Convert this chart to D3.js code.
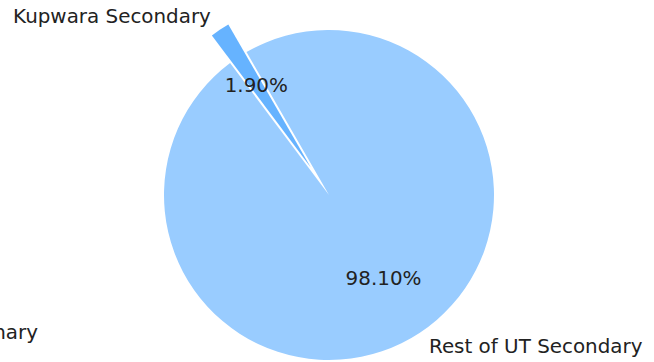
<!DOCTYPE html>
<html>
<head>
<meta charset="utf-8">
<script src="https://cdn.jsdelivr.net/npm/d3@7"></script>
<style>
  body { margin: 0; background: #fff; }
  text { font-family: "DejaVu Sans", sans-serif; fill: #222; }
</style>
</head>
<body>
<script>
// pie data
var labels = ["Kupwara Secondary", "Rest of UT Secondary"];
var values = [1.90, 98.10];
var colors = ["#66b3ff", "#99ccff"];
var explode = [0.2, 0];
// label of a neighbouring pie, cut off at the left edge
var offLabels = ["Kupwara Primary"];

var width = 654, height = 362;
var cx = 329, cy = 195, radius = 165;
var fontSize = 19.9;

var svg = d3.select("body")
    .append("svg")
    .attr("width", width)
    .attr("height", height);

var data = labels.map(function(l, i) {
    return {label: l, value: values[i], color: colors[i], explode: explode[i]};
});

// matplotlib startangle=120, counterclockwise
var start = (90 - 120) * Math.PI / 180;
var pie = d3.pie()
    .sort(null)
    .value(function(d) { return d.value; })
    .startAngle(start)
    .endAngle(start - 2 * Math.PI);

var arcs = pie(data);
var arc = d3.arc().innerRadius(0).outerRadius(radius);

function midAngle(d) { return (d.startAngle + d.endAngle) / 2; }
function offset(d, dist) {
    var a = midAngle(d);
    return [Math.sin(a) * dist, -Math.cos(a) * dist];
}
function shift(d) {
    var o = offset(d, d.data.explode * radius);
    return "translate(" + o[0] + "," + o[1] + ")";
}

var g = svg.append("g").attr("transform", "translate(" + cx + "," + cy + ")");

g.selectAll("path.slice")
    .data(arcs)
    .enter()
    .append("path")
    .attr("class", "slice")
    .attr("transform", shift)
    .attr("d", arc)
    .attr("fill", function(d) { return d.data.color; });

// outer labels (labeldistance 1.1)
g.selectAll("text.label")
    .data(arcs)
    .enter()
    .append("text")
    .attr("class", "label")
    .attr("transform", shift)
    .attr("x", function(d) { return offset(d, 1.1 * radius)[0]; })
    .attr("y", function(d) { return offset(d, 1.1 * radius)[1]; })
    .attr("dy", "0.35em")
    .attr("text-anchor", function(d) { return offset(d, 1)[0] < 0 ? "end" : "start"; })
    .attr("font-size", fontSize)
    .text(function(d) { return d.data.label; });

// percentage labels (pctdistance 0.6)
g.selectAll("text.pct")
    .data(arcs)
    .enter()
    .append("text")
    .attr("class", "pct")
    .attr("transform", shift)
    .attr("x", function(d) { return offset(d, 0.6 * radius)[0]; })
    .attr("y", function(d) { return offset(d, 0.6 * radius)[1]; })
    .attr("dy", "0.35em")
    .attr("text-anchor", "middle")
    .attr("font-size", fontSize)
    .text(function(d) { return d.data.value.toFixed(2) + "%"; });

svg.selectAll("text.off")
    .data(offLabels)
    .enter()
    .append("text")
    .attr("class", "off")
    .attr("x", 38)
    .attr("y", 332)
    .attr("dy", "0.35em")
    .attr("text-anchor", "end")
    .attr("font-size", fontSize)
    .text(function(d) { return d; });
</script>
</body>
</html>
